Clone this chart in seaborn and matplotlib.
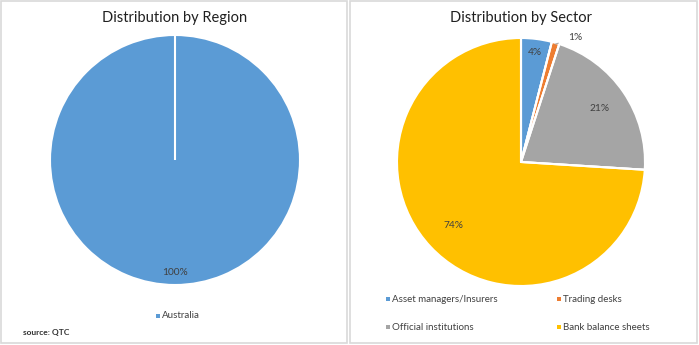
import numpy as np
import matplotlib
matplotlib.use("Agg")
import matplotlib.pyplot as plt
from matplotlib.patches import Rectangle
import seaborn as sns

sns.set_theme(style="white")
plt.rcParams["font.family"] = ["Lato", "DejaVu Sans"]

# Data
region_labels = ["Australia"]
region_values = [100]
sector_labels = ["Asset managers/Insurers", "Trading desks",
                 "Official institutions", "Bank balance sheets"]
sector_values = [4, 1, 21, 74]

region_colors = ["#5B9BD5"]
sector_colors = ["#5B9BD5", "#ED7D31", "#A5A5A5", "#FFC000"]

W, H = 699, 345
fig = plt.figure(figsize=(W / 100, H / 100), dpi=100)
fig.patch.set_facecolor("white")


def fx(px):
    return px / W


def fy(py):
    return 1 - py / H


# panel frames
for x0, x1 in [(1, 347), (350, 697)]:
    fig.add_artist(Rectangle((fx(x0), fy(343)), fx(x1 - x0), (343 - 1) / H,
                             transform=fig.transFigure, fill=False,
                             edgecolor="#D9D9D9", linewidth=1.2))


def pie_axes(cx, cy, r):
    ax = fig.add_axes([fx(cx - r), fy(cy + r), 2 * r / W, 2 * r / H])
    ax.set_xlim(-1, 1)
    ax.set_ylim(-1, 1)
    ax.axis("off")
    return ax


def draw_pie(ax, values, colors, dists, fs=7.3):
    wedges, _ = ax.pie(values, colors=colors, startangle=90, counterclock=False,
                       radius=1.0, wedgeprops=dict(edgecolor="white", linewidth=1.5),
                       frame=False)
    ax.set_xlim(-1, 1)
    ax.set_ylim(-1, 1)
    ax.set_aspect("auto")
    # slice boundary lines (also visible for a full-circle slice)
    for w in wedges:
        a = np.deg2rad(w.theta1)
        ax.plot([0, np.cos(a)], [0, np.sin(a)], color="white", lw=1.5,
                solid_capstyle="butt")
    for w, v, d in zip(wedges, values, dists):
        if d is None:
            continue
        ang = np.deg2rad((w.theta1 + w.theta2) / 2)
        ax.text(d * np.cos(ang), d * np.sin(ang), f"{v}%", ha="center",
                va="center", fontsize=fs, color="#404040")
    return wedges


# Left: distribution by region
axL = pie_axes(175, 160, 125)
draw_pie(axL, region_values, region_colors, [0.9])
fig.text(fx(175), fy(18), "Distribution by Region", ha="center", va="center",
         fontsize=10.5, color="#202020")

# Right: distribution by sector
axR = pie_axes(521, 162, 124)
wR = draw_pie(axR, sector_values, sector_colors, [0.89, None, 0.77, 0.75])
# outside label for the thin slice
w1 = wR[1]
a1 = np.deg2rad((w1.theta1 + w1.theta2) / 2)
ex, ey = np.cos(a1), np.sin(a1)
axR.annotate(f"{sector_values[1]}%", xy=(ex * 0.99, ey * 0.99),
             xytext=(ex + 0.16, ey + 0.04),
             ha="center", va="center", fontsize=7.3, color="#404040",
             arrowprops=dict(arrowstyle="-", color="#A6A6A6", lw=0.7,
                             shrinkA=5, shrinkB=0),
             annotation_clip=False)
fig.text(fx(521), fy(18), "Distribution by Sector", ha="center", va="center",
         fontsize=10.5, color="#202020")

# legends
def legend_item(x, y, color, text):
    fig.add_artist(Rectangle((fx(x - 2), fy(y + 2)), 4 / W, 4 / H,
                             transform=fig.transFigure, color=color, lw=0))
    fig.text(fx(x + 4), fy(y), text, ha="left", va="center", fontsize=7,
             color="#404040")


legend_item(158, 316, region_colors[0], region_labels[0])
pos = [(388, 299), (559, 299), (388, 327), (559, 327)]
for (x, y), c, t in zip(pos, sector_colors, sector_labels):
    legend_item(x, y, c, t)

fig.text(fx(23), fy(333), "source: QTC", ha="left", va="center", fontsize=6,
         color="#303030", fontweight="bold")

fig.savefig("out.png", dpi=100, facecolor="white")
